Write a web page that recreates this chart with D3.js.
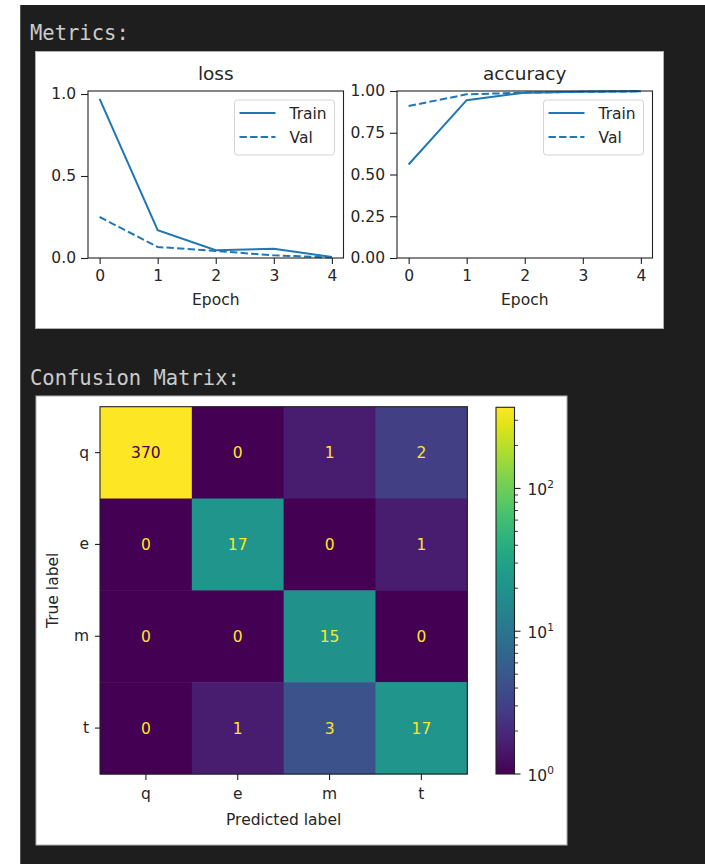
<!DOCTYPE html>
<html><head><meta charset="utf-8">
<script src="https://cdn.jsdelivr.net/npm/d3@7"></script>
<style>
html,body{margin:0;padding:0;background:#fff;}
svg{display:block;}
text{font-family:"DejaVu Sans",sans-serif;}
</style></head><body>
<svg id="c" width="705" height="864"></svg>
<script>
// ---- data ----
const epochs = [0, 1, 2, 3, 4];
const lossTrain = [0.97, 0.17, 0.047, 0.057, 0.006];
const lossVal = [0.25, 0.067, 0.043, 0.016, 0.003];
const accTrain = [0.56, 0.945, 0.99, 0.995, 0.998];
const accVal = [0.91, 0.98, 0.99, 0.995, 0.998];
const lossTicks = [0.0, 0.5, 1.0];
const accTicks = [0.0, 0.25, 0.5, 0.75, 1.0];
const epochTicks = [0, 1, 2, 3, 4];
const seriesNames = ["Train", "Val"];
const classLabels = ["q", "e", "m", "t"];
const cmQ = [370, 0, 1, 2];
const cmE = [0, 17, 0, 1];
const cmM = [0, 0, 15, 0];
const cmT = [0, 1, 3, 17];
const cbarMajor = [1, 10, 100];
const cbarMinor = [2,3,4,5,6,7,8,9,20,30,40,50,60,70,80,90,200,300];

const cmRows = [cmQ, cmE, cmM, cmT];
const svg = d3.select("#c");
const BLUE = "#1f77b4";
const TXT = "#262626";
const FS = 15.5;

// page backgrounds
svg.append("rect").attr("x",0).attr("y",0).attr("width",705).attr("height",864).attr("fill","#fff");
svg.append("rect").attr("x",20).attr("y",5).attr("width",685).attr("height",859).attr("fill","#1e1e1e");
svg.append("line").attr("x1",20.5).attr("x2",20.5).attr("y1",5).attr("y2",864).attr("stroke","#555").attr("stroke-width",1);

const header = (t, y) => svg.append("text").attr("x",30).attr("y",y).text(t)
  .attr("fill","#cccccc").style("font-family","'DejaVu Sans Mono',monospace").style("font-size","20.5px");
header("Metrics:", 40);
header("Confusion Matrix:", 385);

// ---- metrics panel ----
svg.append("rect").attr("x",35.5).attr("y",51.5).attr("width",628).attr("height",277)
  .attr("fill","#fff").attr("stroke","#b0b0b0");

function lineChart(opt) {
  const g = svg.append("g");
  const x = d3.scaleLinear().domain([-0.2, 4.2]).range([opt.x0, opt.x1]);
  const y = d3.scaleLinear().domain(opt.ydom).range([258, 91]);
  // axes
  const ya = g.append("g").attr("transform",`translate(${opt.x0},0)`)
    .call(d3.axisLeft(y).tickValues(opt.yticks).tickSize(7).tickPadding(5).tickFormat(opt.fmt));
  const xa = g.append("g").attr("transform",`translate(0,258)`)
    .call(d3.axisBottom(x).tickValues(epochTicks).tickSize(6).tickPadding(6).tickFormat(d3.format("d")));
  [ya, xa].forEach(a => {
    a.select(".domain").remove();
    a.selectAll("line").attr("stroke","#222").attr("stroke-width",1.1);
    a.selectAll("text").attr("fill",TXT).style("font-size",FS+"px").style("font-family","DejaVu Sans");
  });
  // lines
  const ln = d3.line().x((d,i)=>x(epochs[i])).y(d=>y(d));
  g.append("path").attr("d", ln(opt.train)).attr("fill","none").attr("stroke",BLUE).attr("stroke-width",2);
  g.append("path").attr("d", ln(opt.val)).attr("fill","none").attr("stroke",BLUE).attr("stroke-width",2)
    .attr("stroke-dasharray","7.4,3.2");
  // spines
  g.append("rect").attr("x",opt.x0).attr("y",91).attr("width",opt.x1-opt.x0).attr("height",167)
    .attr("fill","none").attr("stroke","#222").attr("stroke-width",1.1);
  // title and label
  const cx = (opt.x0+opt.x1)/2;
  g.append("text").attr("x",cx).attr("y",80).attr("text-anchor","middle").text(opt.title)
    .attr("fill",TXT).style("font-size","18.5px");
  g.append("text").attr("x",cx).attr("y",305).attr("text-anchor","middle").text("Epoch")
    .attr("fill",TXT).style("font-size",FS+"px");
  // legend
  const lx = opt.legX, ly = 100;
  const lg = g.append("g");
  lg.append("rect").attr("x",lx).attr("y",ly).attr("width",100).attr("height",55).attr("rx",3)
    .attr("fill","#fff").attr("fill-opacity",0.8).attr("stroke","#d4d4d4");
  seriesNames.forEach((s,i) => {
    const yy = ly + 13 + i*24;
    lg.append("line").attr("x1",lx+5).attr("x2",lx+41).attr("y1",yy).attr("y2",yy)
      .attr("stroke",BLUE).attr("stroke-width",2).attr("stroke-dasharray", i ? "7.4,3.2" : null);
    lg.append("text").attr("x",lx+55).attr("y",yy+6).text(s).attr("fill",TXT).style("font-size",FS+"px");
  });
}

const lossMax = d3.max(lossTrain.concat(lossVal)), lossMin = d3.min(lossTrain.concat(lossVal));
lineChart({x0:88, x1:343.5, ydom:[0, lossMax + 0.05*(lossMax-lossMin)], yticks:lossTicks,
  fmt:d3.format(".1f"), train:lossTrain, val:lossVal, title:"loss", legX:234.5});
lineChart({x0:397, x1:652.5, ydom:[0, 1], yticks:accTicks,
  fmt:d3.format(".2f"), train:accTrain, val:accVal, title:"accuracy", legX:543.5});

// ---- confusion matrix panel ----
svg.append("rect").attr("x",36).attr("y",396).attr("width",531).attr("height",449)
  .attr("fill","#fff").attr("stroke","#b0b0b0");

const cx0 = 100, cx1 = 467.3, cy0 = 406.7, cy1 = 774;
const bx = d3.scaleBand().domain(classLabels).range([cx0, cx1]);
const by = d3.scaleBand().domain(classLabels).range([cy0, cy1]);
const cscale = d3.scaleLog().domain([0.6, 370]).range([0, 1]).clamp(true);
const colorOf = v => d3.interpolateViridis(v > 0 ? cscale(v) : 0);
const allVals = cmRows.flat();
const thresh = (d3.max(allVals) + d3.min(allVals)) / 2;

const cells = [];
cmRows.forEach((row, r) => row.forEach((v, c) => cells.push({r: classLabels[r], c: classLabels[c], v})));
const cg = svg.append("g");
cg.selectAll("rect").data(cells).join("rect")
  .attr("x", d=>bx(d.c)).attr("y", d=>by(d.r))
  .attr("width", bx.bandwidth()+0.5).attr("height", by.bandwidth()+0.5)
  .attr("fill", d=>colorOf(d.v));
cg.selectAll("text").data(cells).join("text")
  .attr("x", d=>bx(d.c)+bx.bandwidth()/2).attr("y", d=>by(d.r)+by.bandwidth()/2)
  .attr("dy","0.36em").attr("text-anchor","middle").text(d=>d.v)
  .attr("fill", d=> d.v < thresh ? d3.interpolateViridis(1) : d3.interpolateViridis(0))
  .style("font-size",FS+"px");
svg.append("rect").attr("x",cx0).attr("y",cy0).attr("width",cx1-cx0).attr("height",cy1-cy0)
  .attr("fill","none").attr("stroke","#222").attr("stroke-width",1.1);

const yax = svg.append("g").attr("transform",`translate(${cx0},0)`)
  .call(d3.axisLeft(by).tickSize(5).tickPadding(6));
const xax = svg.append("g").attr("transform",`translate(0,${cy1})`)
  .call(d3.axisBottom(bx).tickSize(6).tickPadding(8));
[yax, xax].forEach(a => {
  a.select(".domain").remove();
  a.selectAll("line").attr("stroke","#222").attr("stroke-width",1.1);
  a.selectAll("text").attr("fill",TXT).style("font-size",FS+"px").style("font-family","DejaVu Sans");
});
svg.append("text").attr("x",(cx0+cx1)/2).attr("y",825).attr("text-anchor","middle")
  .text("Predicted label").attr("fill",TXT).style("font-size",FS+"px");
svg.append("text").attr("transform",`translate(58,${(cy0+cy1)/2}) rotate(-90)`).attr("text-anchor","middle")
  .text("True label").attr("fill",TXT).style("font-size",FS+"px");

// colorbar
const cbx = 496, cbw = 18.5;
const cb = d3.scaleLog().domain([1, d3.max(allVals)]).range([cy1, 407.3]);
const defs = svg.append("defs");
const grad = defs.append("linearGradient").attr("id","vir").attr("x1",0).attr("y1",1).attr("x2",0).attr("y2",0);
d3.range(0, 1.0001, 0.05).forEach(t => grad.append("stop").attr("offset",t).attr("stop-color",d3.interpolateViridis(t)));
svg.append("rect").attr("x",cbx).attr("y",cb.range()[1]).attr("width",cbw).attr("height",cy1-cb.range()[1])
  .attr("fill","url(#vir)").attr("stroke","#222").attr("stroke-width",1.1);
const cbAxis = svg.append("g");
cbAxis.selectAll("line.maj").data(cbarMajor).join("line").attr("class","maj")
  .attr("x1",cbx+cbw).attr("x2",cbx+cbw+6).attr("y1",d=>cb(d)).attr("y2",d=>cb(d))
  .attr("stroke","#222").attr("stroke-width",1.1);
cbAxis.selectAll("line.min").data(cbarMinor).join("line").attr("class","min")
  .attr("x1",cbx+cbw).attr("x2",cbx+cbw+3.5).attr("y1",d=>cb(d)).attr("y2",d=>cb(d))
  .attr("stroke","#222").attr("stroke-width",0.9);
const lbl = cbAxis.selectAll("text").data(cbarMajor).join("text")
  .attr("x",cbx+cbw+13).attr("y",d=>cb(d)+7).attr("fill",TXT).style("font-size",FS+"px");
lbl.append("tspan").text("10");
lbl.append("tspan").attr("dy",-7).style("font-size","10.5px").text(d=>Math.round(Math.log10(d)));
</script>
</body></html>
